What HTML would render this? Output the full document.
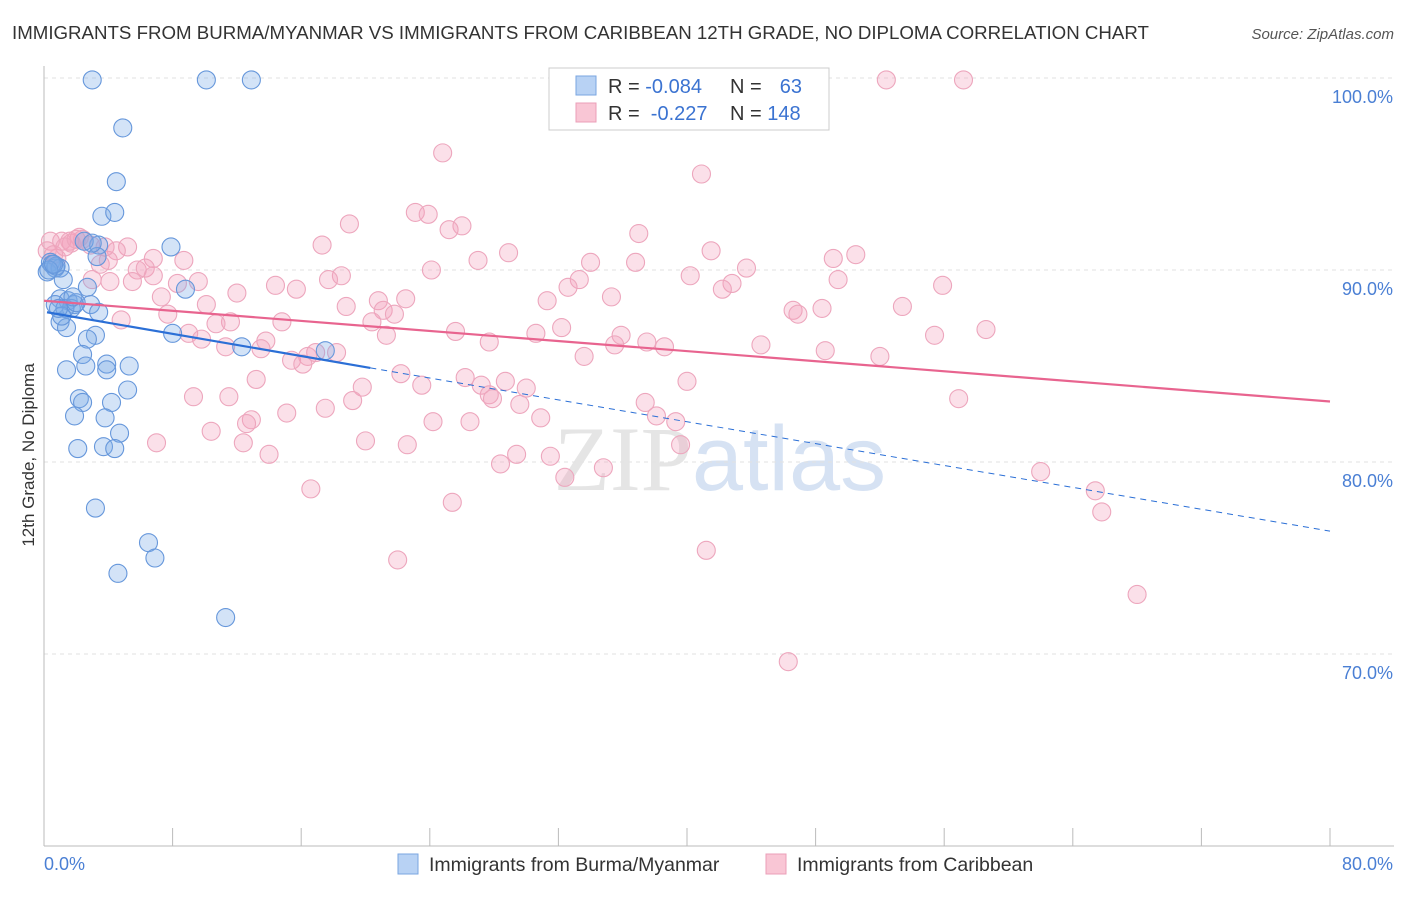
<!DOCTYPE html>
<html><head><meta charset="utf-8"><style>
body{margin:0;background:#fff;font-family:"Liberation Sans",sans-serif}
svg text{font-family:"Liberation Sans",sans-serif}
</style></head><body>
<svg id="chart" width="1406" height="892" xmlns="http://www.w3.org/2000/svg">
<text x="12" y="39" font-size="18.7" fill="#333">IMMIGRANTS FROM BURMA/MYANMAR VS IMMIGRANTS FROM CARIBBEAN 12TH GRADE, NO DIPLOMA CORRELATION CHART</text>
<text x="1394" y="39" font-size="15" fill="#555" font-style="italic" text-anchor="end">Source: ZipAtlas.com</text>
<text x="720" y="490" font-size="92" text-anchor="middle" opacity="0.75"><tspan fill="#ddd" font-family="Liberation Serif">ZIP</tspan><tspan fill="#c9d9f0">atlas</tspan></text>
<g id="grid"></g>
<g id="axes"></g>
<g id="marks"></g>
<text transform="translate(34,455) rotate(-90)" font-size="17" fill="#333" text-anchor="middle">12th Grade, No Diploma</text>
<g>
<rect x="549" y="68" width="280" height="62" fill="#fff" stroke="#ccc"/>
<rect x="576" y="76" width="20" height="19" fill="#b8d2f4" stroke="#7aa6e0"/>
<rect x="576" y="103" width="20" height="19" fill="#f9c6d5" stroke="#eb9fb8"/>
<text x="608" y="93" font-size="20" fill="#333">R = <tspan fill="#3b73d1">-0.084</tspan></text>
<text x="730" y="93" font-size="20" fill="#333">N = </text><text x="802" y="93" font-size="20" fill="#3b73d1" text-anchor="end">63</text>
<text x="608" y="120" font-size="20" fill="#333">R = &#160;<tspan fill="#3b73d1">-0.227</tspan></text>
<text x="730" y="120" font-size="20" fill="#333">N = <tspan fill="#3b73d1">148</tspan></text>
</g>
<g>
<rect x="398" y="854" width="20" height="20" fill="#b8d2f4" stroke="#7aa6e0"/>
<text x="429" y="871" font-size="19.5" fill="#333">Immigrants from Burma/Myanmar</text>
<rect x="766" y="854" width="20" height="20" fill="#f9c6d5" stroke="#eb9fb8"/>
<text x="797" y="871" font-size="19.5" fill="#333">Immigrants from Caribbean</text>
</g>
</svg>
<script>
const yTicks=[100,90,80,70];
const yTickLabels=["100.0%","90.0%","80.0%","70.0%"];
const xTickLabels=["0.0%","80.0%"];
const blueX=[3.0,10.1,12.9,4.9,4.5,3.6,4.4,3.4,7.9,3.3,0.4,0.7,0.2,1.0,1.2,8.8,2.7,1.0,1.5,1.9,2.9,0.7,1.7,3.4,1.0,1.4,3.2,2.7,8.0,12.3,17.5,2.4,3.9,5.3,2.6,3.9,1.4,5.2,2.2,2.4,4.2,1.9,3.8,4.7,2.1,3.7,4.4,3.2,6.5,6.9,4.6,11.3,0.75,0.5,1.3,2.0,0.3,1.1,2.5,0.9,1.8,3.0,0.6];
const blueY=[99.9,99.9,99.9,97.4,94.6,92.8,93.0,91.3,91.2,90.7,90.4,90.1,89.9,90.1,89.5,89.0,89.1,88.5,88.4,88.2,88.2,88.2,88.0,87.8,87.3,87.0,86.6,86.4,86.7,86.0,85.8,85.6,85.1,85.0,85.0,84.8,84.8,83.75,83.3,83.1,83.1,82.4,82.3,81.5,80.7,80.8,80.7,77.6,75.8,75.0,74.2,71.9,90.2,90.3,88.0,88.3,90.0,87.6,91.5,88.0,88.6,91.4,90.3];
const pinkX=[52.4,57.2,24.8,40.9,23.1,23.9,19.0,26.0,25.2,37.0,17.3,41.5,28.9,50.5,49.1,0.4,1.1,1.7,2.4,0.8,2.9,5.2,4.5,3.5,6.8,5.8,6.3,6.8,8.7,27.0,34.0,36.8,43.7,24.1,18.5,17.7,49.4,40.2,33.3,42.8,42.2,55.9,14.4,15.7,5.5,4.1,3.0,9.6,8.3,12.0,32.6,7.3,35.3,22.5,20.8,31.3,10.1,18.8,53.4,48.4,46.6,46.9,21.1,21.8,7.7,4.8,11.6,10.7,20.4,14.8,58.6,25.6,32.2,35.9,55.4,21.3,9.0,9.8,13.8,37.5,27.7,30.6,44.6,35.5,38.6,11.3,13.5,48.6,52.0,33.6,16.9,18.2,16.4,15.4,16.1,22.2,26.2,13.2,40.0,28.7,23.5,27.2,19.8,30.0,27.7,27.9,9.3,19.2,11.5,29.6,56.9,37.4,15.1,17.5,38.1,39.3,30.9,12.9,12.6,24.2,26.5,10.4,22.6,20.0,12.4,7.0,39.6,14.0,29.4,31.5,28.4,34.8,32.4,62.0,16.6,65.4,25.4,65.8,41.2,22.0,68.0,46.3,4.0,1.6,0.2,2.2,1.3,0.6,2.0,3.8];
const pinkY=[99.9,99.9,96.1,95.0,93.0,92.9,92.4,92.3,92.1,91.9,91.3,91.0,90.9,90.8,90.6,91.5,91.5,91.4,91.6,90.6,91.3,91.2,91.0,90.3,90.6,90.0,90.1,89.7,90.5,90.5,90.4,90.4,90.1,90.0,89.7,89.5,89.5,89.7,89.5,89.3,89.0,89.2,89.2,89.0,89.4,89.4,89.5,89.4,89.3,88.8,89.1,88.6,88.6,88.5,88.4,88.4,88.2,88.1,88.1,88.0,87.9,87.7,87.9,87.7,87.7,87.4,87.3,87.2,87.3,87.3,86.9,86.8,87.0,86.6,86.6,86.6,86.7,86.4,86.3,86.25,86.25,86.7,86.1,86.1,86.0,86.0,85.9,85.8,85.5,85.5,85.7,85.7,85.5,85.3,85.1,84.6,84.4,84.3,84.2,84.2,84.0,84.0,83.9,83.85,83.5,83.3,83.4,83.2,83.4,83.0,83.3,83.1,82.55,82.8,82.4,82.1,82.3,82.2,82.0,82.1,82.1,81.6,80.9,81.1,81.0,81.0,80.9,80.4,80.4,80.3,79.9,79.7,79.2,79.5,78.6,78.5,77.9,77.4,75.4,74.9,73.1,69.6,90.5,91.5,91.0,91.7,91.2,90.8,91.6,91.2];
const blueTrend=[87.8,84.9,76.4];
const blueTrendX=[0,20.3,80];
const pinkTrend=[88.4,83.15];
const pinkTrendX=[0,80];

const NS="http://www.w3.org/2000/svg";
const X0=44,X1=1330,YT=78,YB=846;
const sx=v=>X0+(v/80)*(X1-X0);
const sy=v=>YT+(100-v)/40*(YB-YT);
function mk(tag,attrs,parent){const e=document.createElementNS(NS,tag);for(const k in attrs)e.setAttribute(k,attrs[k]);parent.appendChild(e);return e;}
const grid=document.getElementById('grid'),axes=document.getElementById('axes'),marks=document.getElementById('marks');
yTicks.forEach((t,i)=>{
  const l=mk('line',{x1:X0,x2:1394,y1:sy(t),y2:sy(t),stroke:'#e2e2e2','stroke-dasharray':'4,4'},grid);
  
  
  const tx=mk('text',{x:1393,y:sy(t)+25,'font-size':18,fill:'#4a7fd4','text-anchor':'end'},axes);
  tx.textContent=yTickLabels[i];
  
  
});
const xa=mk('line',{x1:X0,x2:1394,y1:YB,y2:YB,stroke:'#bbb'},axes);


const ya=mk('line',{x1:X0,x2:X0,y1:66,y2:YB,stroke:'#bbb'},axes);


for(let i=0;i<=10;i++){
  const t=mk('line',{x1:sx(i*8),x2:sx(i*8),y1:YB,y2:YB-18,stroke:'#bbb'},axes);
  
  
}
const xl0=mk('text',{x:44,y:870,'font-size':18,fill:'#4a7fd4'},axes);
xl0.textContent=xTickLabels[0];


const xl1=mk('text',{x:1393,y:870,'font-size':18,fill:'#4a7fd4','text-anchor':'end'},axes);
xl1.textContent=xTickLabels[1];



pinkX.forEach((x,i)=>{
  const c=mk('circle',{cx:sx(x),cy:sy(pinkY[i]),r:9,fill:'rgba(244,160,188,0.33)',stroke:'#eda6bd','stroke-width':1.1},marks);
  
  
});
blueX.forEach((x,i)=>{
  const c=mk('circle',{cx:sx(x),cy:sy(blueY[i]),r:9,fill:'rgba(120,170,232,0.33)',stroke:'#6697db','stroke-width':1.1},marks);
  
  
});
const pl=mk('line',{x1:sx(pinkTrendX[0]),y1:sy(pinkTrend[0]),x2:sx(pinkTrendX[1]),y2:sy(pinkTrend[1]),stroke:'#e8648f','stroke-width':2.2},marks);


const bl=mk('line',{x1:sx(blueTrendX[0])+3,y1:sy(blueTrend[0]),x2:sx(blueTrendX[1]),y2:sy(blueTrend[1]),stroke:'#2b6fd6','stroke-width':2.2},marks);


const bd=mk('line',{x1:sx(blueTrendX[1]),y1:sy(blueTrend[1]),x2:sx(blueTrendX[2]),y2:sy(blueTrend[2]),stroke:'#2b6fd6','stroke-width':1,'stroke-dasharray':'6,5'},marks);


</script>
</body></html>
